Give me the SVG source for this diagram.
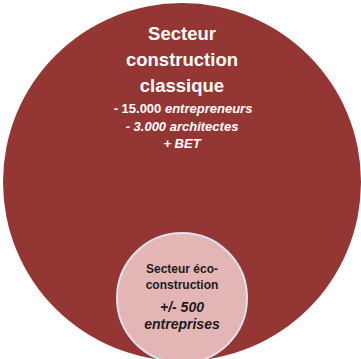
<svg xmlns="http://www.w3.org/2000/svg" width="361" height="359" viewBox="0 0 361 359">
<style>
.t{font-family:"Liberation Sans",Arial,sans-serif;font-weight:bold;text-anchor:middle}
.w{fill:#ffffff}
.d{fill:#1c1c1c}
.i{font-style:italic}
</style>
<rect width="361" height="359" fill="#ffffff"/>
<g id="classique">
<circle cx="182" cy="182" r="179" fill="#943634"/>
<text class="t w" x="182" y="40" font-size="18.5">Secteur</text>
<text class="t w" x="182" y="66" font-size="18.5">construction</text>
<text class="t w" x="182" y="92" font-size="18.5">classique</text>
<text class="t w" x="183" y="113" font-size="13">- 15.000 <tspan class="i">entrepreneurs</tspan></text>
<text class="t w i" x="182" y="131" font-size="13">- 3.000 architectes</text>
<text class="t w i" x="182" y="148" font-size="13">+ BET</text>
</g>
<g id="eco">
<circle cx="182" cy="298" r="65" fill="#e4b5b5" stroke="#dde2ec" stroke-width="2"/>
<text class="t d" x="182" y="273" font-size="12">Secteur éco-</text>
<text class="t d" x="182" y="289" font-size="12">construction</text>
<text class="t d i" x="182" y="312" font-size="14">+/- 500</text>
<text class="t d i" x="182" y="329" font-size="14">entreprises</text>
</g>
<g id="connectors"></g>
</svg>
